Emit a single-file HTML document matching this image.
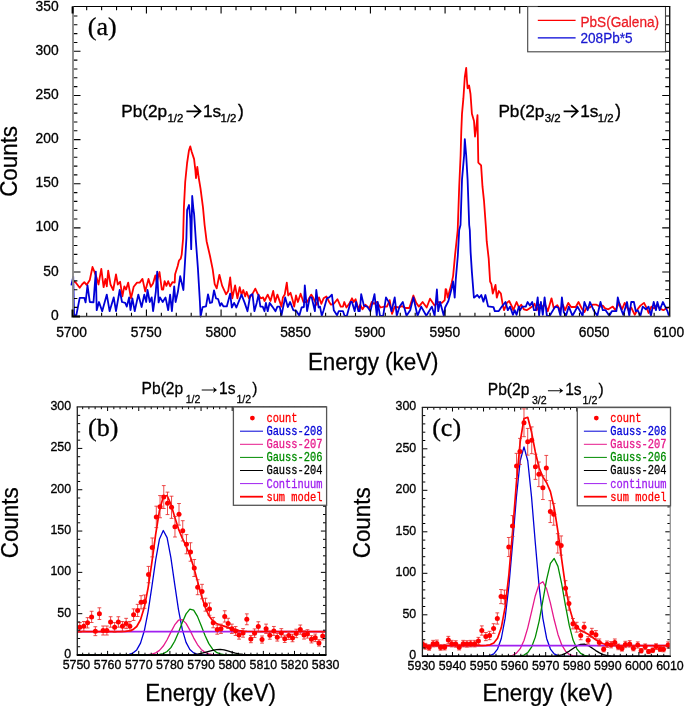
<!DOCTYPE html><html><head><meta charset="utf-8"><style>html,body{margin:0;padding:0;background:#fff;overflow:hidden}svg{display:block;will-change:transform}.s{font-family:"Liberation Sans",sans-serif}.m{font-family:"Liberation Mono",monospace}.r{font-family:"Liberation Serif",serif}</style></head><body>
<svg width="685" height="706" viewBox="0 0 685 706">
<rect width="685" height="706" fill="#fff"/>
<defs><clipPath id="ca"><rect x="70" y="6" width="601" height="312"/></clipPath>
<clipPath id="cb"><rect x="77.3" y="406.8" width="248.6" height="248.3"/></clipPath>
<clipPath id="cc"><rect x="422.4" y="407.3" width="247.9" height="248.9"/></clipPath></defs>
<g clip-path="url(#ca)" fill="none" stroke-width="1.8" stroke-linejoin="round">
<path d="M71.4 284.5 L73.2 281.7 L75.5 282.2 L79.7 287.7 L82 284.5 L84.3 282.2 L86.6 284.9 L89.8 279.9 L92.5 267 L94.4 271.6 L96.7 278 L98.5 284.5 L101.3 268.8 L103.6 287.2 L105.4 279 L106.8 286.3 L108.2 270.7 L110.5 284.5 L113.2 290 L116 274.3 L117.8 284.5 L120.1 281.7 L122.4 296.4 L124.3 286.3 L126.1 289.5 L128.2 282.6 L131 298.3 L133.7 286.8 L137 282.6 L139.7 282.6 L142.5 278.9 L145.2 291.4 L148.5 278.9 L150.8 286.8 L153 283.5 L155.4 275.3 L156.7 282.2 L159.5 272 L161.8 289.5 L163.2 289.5 L164.6 281.2 L166.4 285.8 L168.2 281.2 L170.1 286.3 L172.4 282.2 L174.7 282.6 L175.1 274.3 L177.7 266 L179 260.5 L180.7 258.7 L181.7 254.6 L183.1 238.5 L183.9 207.6 L185.2 182 L187.1 163 L189 150.2 L190.3 146.4 L191.6 151.5 L194.1 159.1 L195.4 170.6 L196 178.2 L197.3 166.8 L198.6 177 L200.5 188.4 L203 207.6 L204.6 225 L206.6 241.2 L210 256 L212.7 269.4 L214.7 284.2 L216.7 288.3 L219.4 274.8 L222.1 285.6 L226.1 294.3 L228.2 291 L230.2 277.5 L232.3 298.3 L235.1 285.4 L237.4 298.3 L239.7 287.2 L241.5 294.6 L243.3 290 L245.2 296.4 L246.6 291.8 L248.9 298.3 L252.1 294.6 L255.3 288.6 L257.6 293.7 L260.8 298.3 L263.1 297.4 L264.5 301 L267.7 294.6 L270.5 301 L273.2 290.9 L275.1 302 L277.4 294.6 L281.5 306.6 L282.9 297.4 L284.7 294.6 L286.8 282.6 L288.2 295.5 L290.5 292.8 L292.4 299.2 L294.2 306.6 L296 295.5 L297.9 302 L300.6 293.7 L303.4 302 L307.1 302 L311.2 294.6 L313.5 298.3 L316.7 304.7 L319 297.4 L321.3 303.8 L323.6 298.3 L326.4 296.4 L329.2 302 L331 304.7 L333.8 303.8 L337.4 299.2 L340.7 306.6 L343 306.6 L344.3 302 L346.4 307.5 L349.2 303.8 L352 298.3 L353.8 302 L355.6 299.2 L358.4 309.3 L360.2 304.7 L362.5 309.3 L365.3 304.7 L369.4 308.4 L371.7 302 L374 303.8 L376.8 302 L380.5 307.5 L384.2 306.6 L386.9 306.6 L389.7 300.1 L392 313.9 L394.7 306.6 L398.7 307.5 L401.9 306.1 L405.6 308 L409.3 308 L413.4 295.5 L416.2 302.9 L418.9 306.6 L422.6 302 L426.7 307.5 L430 298.7 L434.6 305.6 L438.2 302 L441.9 302.9 L444.7 300.1 L445.6 289.1 L446.3 289.6 L447.7 297.7 L451.7 282.9 L453.1 276.1 L455.1 254.6 L456.4 242.5 L457.7 230 L459.2 186.7 L460.6 155.5 L461.3 130.8 L462 113.8 L463.4 98.2 L464.8 77 L466.2 67.8 L466.9 79.8 L467.6 88.3 L469.1 85.5 L470.5 94 L471.9 113.8 L474 120.9 L475 136.5 L476.4 126.6 L477.5 115.2 L477.8 133.7 L478.3 162.6 L481.1 165.4 L482.5 186.7 L484 200.8 L486.1 230 L486.7 241.2 L488.7 258.6 L490.1 281.5 L491.4 284.2 L492.8 293.6 L495.5 284.9 L496.8 297.7 L498.8 291 L500.9 293.6 L502.9 305.8 L504.1 310.2 L506.9 302.9 L509.2 301 L512 306.6 L513.3 310.2 L516.6 302 L518.9 307.5 L521.2 304.7 L523.9 309.3 L526.7 310.2 L529.4 308.4 L532.2 306.6 L534.5 303.8 L536.8 310.2 L539.6 304.7 L542.3 306.6 L545.1 304.7 L547.8 311.2 L551.5 298.3 L553.8 308.4 L557.3 305.1 L560.1 310.2 L562.8 304.7 L565.1 310.2 L568.3 302.9 L571.1 307 L575.7 307 L578.5 302 L581.7 308.4 L584.4 312 L586.7 307.5 L590 307.5 L592.7 304.7 L596.4 304.7 L600.1 306.6 L602.8 305.6 L605.1 308.4 L608.4 309.3 L612.8 306.6 L615.5 310.2 L619.2 302.9 L622 309.3 L624.7 302.9 L628.4 310.2 L631.2 307.5 L634.8 314.8 L637.6 309.3 L640.4 305.6 L644 302.9 L646.8 308.4 L648.6 313 L651.4 306.6 L654.2 308.4 L656.9 304.7 L659.7 308.4 L663.4 310.2 L666.1 308.4 L668.9 307.5" stroke="#ff0000"/>
<path d="M71.4 285.4 L73.2 276.6 L74.1 315.8 L76.4 314.9 L79.7 297.8 L84.3 297.8 L85.6 302.4 L87.5 285.4 L89.8 302 L93.5 302.4 L95.8 271.6 L96.7 310.2 L99 302 L102.2 311.2 L106.8 294.6 L109.6 311.2 L113.7 297.4 L116 311.2 L119.7 290 L122 302 L125.2 302.9 L126.8 306.6 L129.1 297.4 L130.5 310.2 L132.4 298.3 L134.7 311.2 L138.3 294.6 L141.6 307 L144.3 294.6 L146.2 302 L147.5 290 L149.8 302 L151.7 297.4 L153.1 311.2 L155.8 291.8 L157.2 271.6 L158.6 302.4 L160 297.4 L162.7 302 L165.5 297.4 L168.2 310.2 L170.1 294.6 L171.9 311.2 L174.2 286.3 L175.6 302 L177.9 291.8 L180.2 276.2 L183.4 290 L184.4 272.1 L186.4 238.5 L187.1 210 L189 205 L190.3 219 L191.2 249.2 L192.2 196 L193.5 210 L194.1 214 L195.9 241.2 L197.9 268.1 L199.9 301.7 L200.6 316.5 L202.6 307.1 L206 306.4 L208 294.3 L210 303 L212 302.4 L214 290.3 L216 298.4 L218.1 299 L220.1 305.8 L221.4 303.1 L223.5 306.4 L226.8 306.4 L230.2 293.6 L231.8 307.5 L234.1 302.9 L236.4 307.5 L241.5 294.6 L244.7 302.9 L247.5 311.2 L250.2 295.5 L252.5 294.1 L254.4 311.2 L256.7 302.9 L258.5 294.6 L260.4 306.6 L262.7 306.6 L264.5 311.2 L265.9 302.9 L267.7 311.2 L269.6 302.9 L272.3 306.6 L275.5 311.2 L277.4 306.6 L279.7 306.6 L281.5 315.3 L282.9 308.4 L285.2 297.4 L287.8 307 L290.1 302 L293.3 310.2 L296.5 311.2 L299.3 315.8 L301.6 307.5 L303.9 307 L304.8 285.4 L307.1 311.2 L309.8 297.4 L311.7 297.4 L314.9 311.2 L316.3 290 L318.6 307.5 L320 306.6 L321.8 315.8 L323.6 310.2 L326.9 298.3 L329.2 297.4 L331.9 294.6 L333.8 310.2 L337 315.3 L338.8 311.2 L343 311.2 L344.6 315.8 L346.9 315.8 L350.6 302 L352 302 L354.7 311.2 L356.1 302 L358.4 311.2 L359.8 311.2 L361.2 294.1 L363.9 305.6 L367.1 306.6 L370.4 311.2 L374.5 294.1 L376.8 315.8 L377.7 302 L380 315.8 L383.2 315.8 L386 297.4 L389.2 302.9 L391.5 311.2 L394.7 297.4 L396.8 315.8 L399.6 306.6 L402.8 302 L406.5 315.8 L410.2 310.2 L413.4 297.4 L417.5 315.8 L421.2 306.6 L426.3 315.8 L431.8 306.6 L434.6 315.8 L436.9 289.5 L438.2 311.2 L440.1 302 L443.8 315.8 L445.1 307.5 L448.4 301 L451.7 288.3 L453.1 281.5 L454.7 297.7 L455.8 278.8 L457.8 256 L459.2 230 L460.5 225 L462 179.6 L464.1 155.5 L464.8 139.2 L466.2 155.5 L467.6 179.6 L469.2 225 L469.8 230 L470.6 251.9 L471.9 272.1 L473.9 297.7 L477.3 295 L479.3 297.7 L481.3 295 L483.4 301.7 L485.4 295 L488.1 306.4 L493.5 307.1 L494.8 311.1 L498.8 311.1 L501.5 307.1 L505.5 302 L507.8 310.2 L510.1 306.6 L512.9 314.8 L514.7 310.2 L516.6 314.8 L518.9 306.6 L520.2 310.2 L522.1 306.6 L525.8 306.6 L527.6 302 L529.9 305.6 L532.2 302 L534 310.2 L535.9 310.2 L537.7 297.4 L539.1 315.8 L540.9 302 L542.8 314.8 L544.6 297.4 L546.9 315.8 L549.7 315.8 L555.2 306.6 L558.2 307.5 L560.5 315.8 L561.9 297.4 L563.7 312 L566 315.8 L568.8 306.6 L572.5 315.8 L577.5 306.6 L582.6 315.8 L584.4 302 L587.7 310.2 L590 302 L593.6 310.2 L597.3 315.8 L600.5 302 L602.8 310.2 L605.6 310.2 L609.3 315.8 L611.8 311.2 L616.4 311.2 L617.8 297.4 L620.1 306.6 L623.3 314.8 L627 302 L629.3 315.8 L631.2 302 L633.9 302 L635.8 311.2 L637.6 310.2 L640.4 315.8 L642.7 306.6 L645.9 309.3 L648.6 306.6 L650.9 315.8 L653.7 302 L656 310.2 L657.4 302 L659.7 310.2 L662.9 302 L665.2 306.6 L667.5 311.2 L668.9 315.8" stroke="#0000d7"/>
</g>
<path d="M86.68 316.6V312.8M86.68 6.5V10.3M101.62 316.6V312.8M101.62 6.5V10.3M116.55 316.6V312.8M116.55 6.5V10.3M131.48 316.6V312.8M131.48 6.5V10.3M146.42 316.6V309.6M146.42 6.5V13.5M161.35 316.6V312.8M161.35 6.5V10.3M176.28 316.6V312.8M176.28 6.5V10.3M191.21 316.6V312.8M191.21 6.5V10.3M206.15 316.6V312.8M206.15 6.5V10.3M221.08 316.6V309.6M221.08 6.5V13.5M236.01 316.6V312.8M236.01 6.5V10.3M250.95 316.6V312.8M250.95 6.5V10.3M265.88 316.6V312.8M265.88 6.5V10.3M280.81 316.6V312.8M280.81 6.5V10.3M295.75 316.6V309.6M295.75 6.5V13.5M310.68 316.6V312.8M310.68 6.5V10.3M325.61 316.6V312.8M325.61 6.5V10.3M340.54 316.6V312.8M340.54 6.5V10.3M355.48 316.6V312.8M355.48 6.5V10.3M370.41 316.6V309.6M370.41 6.5V13.5M385.34 316.6V312.8M385.34 6.5V10.3M400.28 316.6V312.8M400.28 6.5V10.3M415.21 316.6V312.8M415.21 6.5V10.3M430.14 316.6V312.8M430.14 6.5V10.3M445.08 316.6V309.6M445.08 6.5V13.5M460.01 316.6V312.8M460.01 6.5V10.3M474.94 316.6V312.8M474.94 6.5V10.3M489.87 316.6V312.8M489.87 6.5V10.3M504.81 316.6V312.8M504.81 6.5V10.3M519.74 316.6V309.6M519.74 6.5V13.5M534.67 316.6V312.8M534.67 6.5V10.3M549.61 316.6V312.8M549.61 6.5V10.3M564.54 316.6V312.8M564.54 6.5V10.3M579.47 316.6V312.8M579.47 6.5V10.3M594.4 316.6V309.6M594.4 6.5V13.5M609.34 316.6V312.8M609.34 6.5V10.3M624.27 316.6V312.8M624.27 6.5V10.3M639.2 316.6V312.8M639.2 6.5V10.3M654.14 316.6V312.8M654.14 6.5V10.3M73 307.37H77.4M669.7 307.37H665.3M73 298.54H77.4M669.7 298.54H665.3M73 289.71H77.4M669.7 289.71H665.3M73 280.88H77.4M669.7 280.88H665.3M73 272.05H80.5M669.7 272.05H662.2M73 263.22H77.4M669.7 263.22H665.3M73 254.39H77.4M669.7 254.39H665.3M73 245.56H77.4M669.7 245.56H665.3M73 236.73H77.4M669.7 236.73H665.3M73 227.9H80.5M669.7 227.9H662.2M73 219.07H77.4M669.7 219.07H665.3M73 210.24H77.4M669.7 210.24H665.3M73 201.41H77.4M669.7 201.41H665.3M73 192.58H77.4M669.7 192.58H665.3M73 183.75H80.5M669.7 183.75H662.2M73 174.92H77.4M669.7 174.92H665.3M73 166.09H77.4M669.7 166.09H665.3M73 157.26H77.4M669.7 157.26H665.3M73 148.43H77.4M669.7 148.43H665.3M73 139.6H80.5M669.7 139.6H662.2M73 130.77H77.4M669.7 130.77H665.3M73 121.94H77.4M669.7 121.94H665.3M73 113.11H77.4M669.7 113.11H665.3M73 104.28H77.4M669.7 104.28H665.3M73 95.45H80.5M669.7 95.45H662.2M73 86.62H77.4M669.7 86.62H665.3M73 77.79H77.4M669.7 77.79H665.3M73 68.96H77.4M669.7 68.96H665.3M73 60.13H77.4M669.7 60.13H665.3M73 51.3H80.5M669.7 51.3H662.2M73 42.47H77.4M669.7 42.47H665.3M73 33.64H77.4M669.7 33.64H665.3M73 24.81H77.4M669.7 24.81H665.3M73 15.98H77.4M669.7 15.98H665.3" stroke="#000" stroke-width="1.1" fill="none"/>
<path d="M72.4 6.5H670.3" stroke="#000" stroke-width="1.2"/>
<path d="M669.7 6.5V316.6" stroke="#111" stroke-width="1.4"/>
<path d="M73 6.5V316.6" stroke="#8c8c8c" stroke-width="1.9"/>
<path d="M73 316.6H670.3" stroke="#444" stroke-width="1.5"/>
<path d="M72.5 309.6V316.6 H80" stroke="#000" stroke-width="2" fill="none"/>
<path d="M72.6 6.5V13.5" stroke="#000" stroke-width="2" fill="none"/>
<text class="s" x="58.6" y="319.7" font-size="13.8" text-anchor="end" fill="#000" stroke="#000" stroke-width="0.3">0</text>
<text class="s" x="58.6" y="275.55" font-size="13.8" text-anchor="end" fill="#000" stroke="#000" stroke-width="0.3">50</text>
<text class="s" x="58.6" y="231.4" font-size="13.8" text-anchor="end" fill="#000" stroke="#000" stroke-width="0.3">100</text>
<text class="s" x="58.6" y="187.25" font-size="13.8" text-anchor="end" fill="#000" stroke="#000" stroke-width="0.3">150</text>
<text class="s" x="58.6" y="143.1" font-size="13.8" text-anchor="end" fill="#000" stroke="#000" stroke-width="0.3">200</text>
<text class="s" x="58.6" y="98.95" font-size="13.8" text-anchor="end" fill="#000" stroke="#000" stroke-width="0.3">250</text>
<text class="s" x="58.6" y="54.8" font-size="13.8" text-anchor="end" fill="#000" stroke="#000" stroke-width="0.3">300</text>
<text class="s" x="58.6" y="10.65" font-size="13.8" text-anchor="end" fill="#000" stroke="#000" stroke-width="0.3">350</text>
<text class="s" x="71.55" y="337.3" font-size="13.8" text-anchor="middle" fill="#000" stroke="#000" stroke-width="0.3">5700</text>
<text class="s" x="146.22" y="337.3" font-size="13.8" text-anchor="middle" fill="#000" stroke="#000" stroke-width="0.3">5750</text>
<text class="s" x="220.88" y="337.3" font-size="13.8" text-anchor="middle" fill="#000" stroke="#000" stroke-width="0.3">5800</text>
<text class="s" x="295.55" y="337.3" font-size="13.8" text-anchor="middle" fill="#000" stroke="#000" stroke-width="0.3">5850</text>
<text class="s" x="370.21" y="337.3" font-size="13.8" text-anchor="middle" fill="#000" stroke="#000" stroke-width="0.3">5900</text>
<text class="s" x="444.88" y="337.3" font-size="13.8" text-anchor="middle" fill="#000" stroke="#000" stroke-width="0.3">5950</text>
<text class="s" x="519.54" y="337.3" font-size="13.8" text-anchor="middle" fill="#000" stroke="#000" stroke-width="0.3">6000</text>
<text class="s" x="594.2" y="337.3" font-size="13.8" text-anchor="middle" fill="#000" stroke="#000" stroke-width="0.3">6050</text>
<text class="s" x="668.87" y="337.3" font-size="13.8" text-anchor="middle" fill="#000" stroke="#000" stroke-width="0.3">6100</text>
<text class="s" transform="translate(373.2,369.7) scale(1,1.03)" font-size="22.4" text-anchor="middle" fill="#000" stroke="#000" stroke-width="0.25">Energy (keV)</text>
<text class="s" transform="translate(17.2,161.4) rotate(-90) scale(1,1.03)" font-size="22.4" text-anchor="middle" stroke="#000" stroke-width="0.25">Counts</text>
<text class="r" x="87.8" y="35" font-size="26" stroke="#000" stroke-width="0.3">(a)</text>
<rect x="527.7" y="6.5" width="137.8" height="45.3" fill="#fff" stroke="#444" stroke-width="1.1"/>
<path d="M537.8 6.5H669" stroke="#000" stroke-width="1.2"/>
<path d="M537.8 20.3H575.6" stroke="#ff0000" stroke-width="1.2"/>
<path d="M537.8 37.8H575.6" stroke="#0000d7" stroke-width="1.2"/>
<text class="s" transform="translate(580.5,27.2) scale(1,1.06)" font-size="13.6" text-anchor="start" fill="#ec1c24" stroke="#ec1c24" stroke-width="0.25">PbS(Galena)</text>
<text class="s" transform="translate(580.5,43.4) scale(1,1.06)" font-size="13.6" text-anchor="start" fill="#1818d0" stroke="#1818d0" stroke-width="0.25">208Pb*5</text>
<text class="s" x="121.2" y="117.2" font-size="17.2" text-anchor="start" fill="#000" stroke="#000" stroke-width="0.35">Pb(2p</text><text class="s" x="167.5" y="122" font-size="11.4" text-anchor="start" fill="#000" stroke="#000" stroke-width="0.35">1/2</text><path d="M186.4 111.3H200 M194 105.2L200.6 111.3L194 117.4" stroke="#000" stroke-width="1.7" fill="none"/><text class="s" x="203" y="117.2" font-size="17.2" text-anchor="start" fill="#000" stroke="#000" stroke-width="0.35">1s</text><text class="s" x="220.6" y="122" font-size="11.4" text-anchor="start" fill="#000" stroke="#000" stroke-width="0.35">1/2</text><text class="s" transform="translate(238.1,117.2) scale(1,1.1)" font-size="17.2" stroke="#000" stroke-width="0.35">)</text>
<text class="s" x="498.4" y="117.2" font-size="17.2" text-anchor="start" fill="#000" stroke="#000" stroke-width="0.35">Pb(2p</text><text class="s" x="544.7" y="122" font-size="11.4" text-anchor="start" fill="#000" stroke="#000" stroke-width="0.35">3/2</text><path d="M563.6 111.3H577.2 M571.2 105.2L577.8 111.3L571.2 117.4" stroke="#000" stroke-width="1.7" fill="none"/><text class="s" x="580.2" y="117.2" font-size="17.2" text-anchor="start" fill="#000" stroke="#000" stroke-width="0.35">1s</text><text class="s" x="597.8" y="122" font-size="11.4" text-anchor="start" fill="#000" stroke="#000" stroke-width="0.35">1/2</text><text class="s" transform="translate(615.3,117.2) scale(1,1.1)" font-size="17.2" stroke="#000" stroke-width="0.35">)</text>
<g clip-path="url(#cb)" fill="none" stroke-linejoin="round">
<path d="M68.41 655 L72.21 655 L76 655 L79.8 655 L83.59 655 L87.39 655 L91.18 655 L94.98 655 L98.77 655 L102.57 655 L106.36 655 L110.16 655 L113.96 655 L117.75 654.99 L121.55 654.95 L125.34 654.81 L129.14 654.36 L132.93 653.07 L136.73 649.9 L140.52 643.16 L144.32 630.81 L148.11 611.57 L151.91 586.45 L155.7 559.87 L159.5 538.94 L163.29 530.52 L167.09 537.62 L170.88 557.7 L174.68 584.09 L178.47 609.57 L182.27 629.41 L186.06 642.33 L189.86 649.48 L193.65 652.89 L197.45 654.29 L201.24 654.79 L205.04 654.95 L208.83 654.99 L212.63 655 L216.42 655 L220.22 655 L224.01 655 L227.81 655 L231.6 655 L235.4 655 L239.19 655 L242.99 655 L246.78 655 L250.58 655 L254.38 655 L258.17 655 L261.97 655 L265.76 655 L269.56 655 L273.35 655 L277.15 655 L280.94 655 L284.74 655 L288.53 655 L292.33 655 L296.12 655 L299.92 655 L303.71 655 L307.51 655 L311.3 655 L315.1 655 L318.89 655 L322.69 655 L326.48 655 L330.28 655 L334.07 655 L337.87 655 L341.66 655 L345.46 655 L349.25 655 L353.05 655 L356.84 655 L360.64 655" stroke="#0000d7" stroke-width="1.3"/>
<path d="M68.41 655 L72.21 655 L76 655 L79.8 655 L83.59 655 L87.39 655 L91.18 655 L94.98 655 L98.77 655 L102.57 655 L106.36 655 L110.16 655 L113.96 655 L117.75 655 L121.55 655 L125.34 655 L129.14 655 L132.93 655 L136.73 654.99 L140.52 654.98 L144.32 654.91 L148.11 654.71 L151.91 654.16 L155.7 652.9 L159.5 650.38 L163.29 646.04 L167.09 639.75 L170.88 632.16 L174.68 624.94 L178.47 620.22 L182.27 619.62 L186.06 623.36 L189.86 630.12 L193.65 637.81 L197.45 644.55 L201.24 649.42 L205.04 652.38 L208.83 653.92 L212.63 654.61 L216.42 654.87 L220.22 654.96 L224.01 654.99 L227.81 655 L231.6 655 L235.4 655 L239.19 655 L242.99 655 L246.78 655 L250.58 655 L254.38 655 L258.17 655 L261.97 655 L265.76 655 L269.56 655 L273.35 655 L277.15 655 L280.94 655 L284.74 655 L288.53 655 L292.33 655 L296.12 655 L299.92 655 L303.71 655 L307.51 655 L311.3 655 L315.1 655 L318.89 655 L322.69 655 L326.48 655 L330.28 655 L334.07 655 L337.87 655 L341.66 655 L345.46 655 L349.25 655 L353.05 655 L356.84 655 L360.64 655" stroke="#e6198c" stroke-width="1.3"/>
<path d="M68.41 655 L72.21 655 L76 655 L79.8 655 L83.59 655 L87.39 655 L91.18 655 L94.98 655 L98.77 655 L102.57 655 L106.36 655 L110.16 655 L113.96 655 L117.75 655 L121.55 655 L125.34 655 L129.14 655 L132.93 655 L136.73 655 L140.52 655 L144.32 655 L148.11 654.99 L151.91 654.95 L155.7 654.83 L159.5 654.48 L163.29 653.56 L167.09 651.53 L170.88 647.63 L174.68 641.26 L178.47 632.48 L182.27 622.54 L186.06 613.87 L189.86 609.19 L193.65 610.14 L197.45 616.38 L201.24 625.77 L205.04 635.55 L208.83 643.63 L212.63 649.15 L216.42 652.36 L220.22 653.95 L224.01 654.63 L227.81 654.89 L231.6 654.97 L235.4 654.99 L239.19 655 L242.99 655 L246.78 655 L250.58 655 L254.38 655 L258.17 655 L261.97 655 L265.76 655 L269.56 655 L273.35 655 L277.15 655 L280.94 655 L284.74 655 L288.53 655 L292.33 655 L296.12 655 L299.92 655 L303.71 655 L307.51 655 L311.3 655 L315.1 655 L318.89 655 L322.69 655 L326.48 655 L330.28 655 L334.07 655 L337.87 655 L341.66 655 L345.46 655 L349.25 655 L353.05 655 L356.84 655 L360.64 655" stroke="#008c00" stroke-width="1.3"/>
<path d="M68.41 655 L72.21 655 L76 655 L79.8 655 L83.59 655 L87.39 655 L91.18 655 L94.98 655 L98.77 655 L102.57 655 L106.36 655 L110.16 655 L113.96 655 L117.75 655 L121.55 655 L125.34 655 L129.14 655 L132.93 655 L136.73 655 L140.52 655 L144.32 655 L148.11 655 L151.91 655 L155.7 655 L159.5 655 L163.29 655 L167.09 655 L170.88 655 L174.68 655 L178.47 654.99 L182.27 654.98 L186.06 654.93 L189.86 654.82 L193.65 654.58 L197.45 654.15 L201.24 653.45 L205.04 652.48 L208.83 651.36 L212.63 650.3 L216.42 649.6 L220.22 649.47 L224.01 649.94 L227.81 650.88 L231.6 652.01 L235.4 653.07 L239.19 653.88 L242.99 654.43 L246.78 654.74 L250.58 654.89 L254.38 654.96 L258.17 654.99 L261.97 655 L265.76 655 L269.56 655 L273.35 655 L277.15 655 L280.94 655 L284.74 655 L288.53 655 L292.33 655 L296.12 655 L299.92 655 L303.71 655 L307.51 655 L311.3 655 L315.1 655 L318.89 655 L322.69 655 L326.48 655 L330.28 655 L334.07 655 L337.87 655 L341.66 655 L345.46 655 L349.25 655 L353.05 655 L356.84 655 L360.64 655" stroke="#000000" stroke-width="1.3"/>
<path d="M77.3 631.59H325.9" stroke="#a020f0" stroke-width="1.6"/>
<path d="M68.41 631.59 L72.21 631.59 L76 631.59 L79.8 631.59 L83.59 631.59 L87.39 631.59 L91.18 631.59 L94.98 631.59 L98.77 631.59 L102.57 631.59 L106.36 631.59 L110.16 631.59 L113.96 631.59 L117.75 631.58 L121.55 631.55 L125.34 631.41 L129.14 630.95 L132.93 629.66 L136.73 626.49 L140.52 619.73 L144.32 607.31 L148.11 587.86 L151.91 562.16 L155.7 534.19 L159.5 510.38 L163.29 496.71 L167.09 495.49 L170.88 504.09 L174.68 516.88 L178.47 528.85 L182.27 538.14 L186.06 546.08 L189.86 555.21 L193.65 567.01 L197.45 580.96 L201.24 595.02 L205.04 606.95 L208.83 615.48 L212.63 620.65 L216.42 623.42 L220.22 624.97 L224.01 626.16 L227.81 627.36 L231.6 628.57 L235.4 629.65 L239.19 630.48 L242.99 631.02 L246.78 631.33 L250.58 631.49 L254.38 631.55 L258.17 631.58 L261.97 631.59 L265.76 631.59 L269.56 631.59 L273.35 631.59 L277.15 631.59 L280.94 631.59 L284.74 631.59 L288.53 631.59 L292.33 631.59 L296.12 631.59 L299.92 631.59 L303.71 631.59 L307.51 631.59 L311.3 631.59 L315.1 631.59 L318.89 631.59 L322.69 631.59 L326.48 631.59 L330.28 631.59 L334.07 631.59 L337.87 631.59 L341.66 631.59 L345.46 631.59 L349.25 631.59 L353.05 631.59 L356.84 631.59 L360.64 631.59" stroke="#ff0000" stroke-width="1.7"/>
<path d="M79.8 622.57V632.15 M77.9 622.57H81.7 M77.9 632.15H81.7M83.84 621.49V631.24 M81.94 621.49H85.74 M81.94 631.24H85.74M87.57 617.63V627.97 M85.67 617.63H89.47 M85.67 627.97H89.47M91.62 611.28V622.53 M89.72 611.28H93.52 M89.72 622.53H93.52M95.35 626.73V635.63 M93.45 626.73H97.25 M93.45 635.63H97.25M99.39 607.81V619.52 M97.49 607.81H101.29 M97.49 619.52H101.29M103.12 626.01V635.02 M101.22 626.01H105.02 M101.22 635.02H105.02M106.86 626.01V635.02 M104.96 626.01H108.76 M104.96 635.02H108.76M110.59 616.73V627.2 M108.69 616.73H112.49 M108.69 627.2H112.49M114.63 622.57V632.15 M112.73 622.57H116.53 M112.73 632.15H116.53M118.36 616.73V627.2 M116.46 616.73H120.26 M116.46 627.2H120.26M122.41 621.49V631.24 M120.51 621.49H124.31 M120.51 631.24H124.31M126.14 618.34V628.58 M124.24 618.34H128.04 M124.24 628.58H128.04M129.87 621.49V631.24 M127.97 621.49H131.77 M127.97 631.24H131.77M133.6 608.88V620.45 M131.7 608.88H135.5 M131.7 620.45H135.5M137.64 604.35V616.51 M135.74 604.35H139.54 M135.74 616.51H139.54M141.07 595.68V608.91 M139.17 595.68H142.97 M139.17 608.91H142.97M144.49 594.98V608.29 M142.59 594.98H146.39 M142.59 608.29H146.39M148.53 566.4V582.74 M146.63 566.4H150.43 M146.63 582.74H150.43M152.26 537.98V556.88 M150.36 537.98H154.16 M150.36 556.88H154.16M156.31 506.18V527.59 M154.41 506.18H158.21 M154.41 527.59H158.21M160.04 495.58V517.77 M158.14 495.58H161.94 M158.14 517.77H161.94M163.77 485.6V508.5 M161.87 485.6H165.67 M161.87 508.5H165.67M167.5 492.14V514.58 M165.6 492.14H169.4 M165.6 514.58H169.4M171.54 496.19V518.33 M169.64 496.19H173.44 M169.64 518.33H173.44M174.96 516.36V537 M173.06 516.36H176.86 M173.06 537H176.86M179.01 503.51V525.12 M177.11 503.51H180.91 M177.11 525.12H180.91M182.74 520.68V540.98 M180.84 520.68H184.64 M180.84 540.98H184.64M186.47 534.6V553.79 M184.57 534.6H188.37 M184.57 553.79H188.37M190.51 542.75V561.24 M188.61 542.75H192.41 M188.61 561.24H192.41M194.25 559.52V576.51 M192.35 559.52H196.15 M192.35 576.51H196.15M197.67 579.69V594.69 M195.77 579.69H199.57 M195.77 594.69H199.57M202.02 584.33V598.84 M200.12 584.33H203.92 M200.12 598.84H203.92M205.44 598.24V611.16 M203.54 598.24H207.34 M203.54 611.16H207.34M209.49 602.93V615.27 M207.59 602.93H211.39 M207.59 615.27H211.39M213.22 617.45V627.81 M211.32 617.45H215.12 M211.32 627.81H215.12M217.26 625.01V634.19 M215.36 625.01H219.16 M215.36 634.19H219.16M220.99 624.11V633.44 M219.09 624.11H222.89 M219.09 633.44H222.89M224.72 610.75V622.06 M222.82 610.75H226.62 M222.82 622.06H226.62M228.15 618.25V628.5 M226.25 618.25H230.05 M226.25 628.5H230.05M231.88 624.11V633.44 M229.98 624.11H233.78 M229.98 633.44H233.78M235.61 626.55V635.47 M233.71 626.55H237.51 M233.71 635.47H237.51M239.03 631.01V639.15 M237.13 631.01H240.93 M237.13 639.15H240.93M243.07 628.64V637.2 M241.17 628.64H244.97 M241.17 637.2H244.97M246.81 613.87V624.75 M244.91 613.87H248.71 M244.91 624.75H248.71M250.85 635.43V642.7 M248.95 635.43H252.75 M248.95 642.7H252.75M254.58 628.91V637.43 M252.68 628.91H256.48 M252.68 637.43H256.48M258.31 621.76V631.47 M256.41 621.76H260.21 M256.41 631.47H260.21M262.04 635.98V643.14 M260.14 635.98H263.94 M260.14 643.14H263.94M266.09 624.11V633.44 M264.19 624.11H267.99 M264.19 633.44H267.99M269.82 631.11V639.22 M267.92 631.11H271.72 M267.92 639.22H271.72M273.86 626.46V635.4 M271.96 626.46H275.76 M271.96 635.4H275.76M277.28 633.4V641.08 M275.38 633.4H279.18 M275.38 641.08H279.18M281.33 628.64V637.2 M279.43 628.64H283.23 M279.43 637.2H283.23M284.75 635.15V642.48 M282.85 635.15H286.65 M282.85 642.48H286.65M288.79 631.47V639.52 M286.89 631.47H290.69 M286.89 639.52H290.69M292.52 634.23V641.74 M290.62 634.23H294.42 M290.62 641.74H294.42M296.25 629.19V637.65 M294.36 629.19H298.15 M294.36 637.65H298.15M300.3 625.01V634.19 M298.4 625.01H302.2 M298.4 634.19H302.2M304.03 630.92V639.07 M302.13 630.92H305.93 M302.13 639.07H305.93M307.45 629.73V638.1 M305.55 629.73H309.35 M305.55 638.1H309.35M311.49 635.7V642.92 M309.59 635.7H313.39 M309.59 642.92H313.39M315.23 634.04V641.6 M313.33 634.04H317.13 M313.33 641.6H317.13M318.96 639.71V646.05 M317.06 639.71H320.86 M317.06 646.05H320.86M322.69 632.02V639.96 M320.79 632.02H324.59 M320.79 639.96H324.59" stroke="#e82020" stroke-opacity="0.8" stroke-width="1"/>
<g fill="#ff0000"><circle cx="79.8" cy="627.36" r="2.5"/><circle cx="83.84" cy="626.37" r="2.5"/><circle cx="87.57" cy="622.8" r="2.5"/><circle cx="91.62" cy="616.9" r="2.5"/><circle cx="95.35" cy="631.18" r="2.5"/><circle cx="99.39" cy="613.67" r="2.5"/><circle cx="103.12" cy="630.51" r="2.5"/><circle cx="106.86" cy="630.51" r="2.5"/><circle cx="110.59" cy="621.97" r="2.5"/><circle cx="114.63" cy="627.36" r="2.5"/><circle cx="118.36" cy="621.97" r="2.5"/><circle cx="122.41" cy="626.37" r="2.5"/><circle cx="126.14" cy="623.46" r="2.5"/><circle cx="129.87" cy="626.37" r="2.5"/><circle cx="133.6" cy="614.66" r="2.5"/><circle cx="137.64" cy="610.43" r="2.5"/><circle cx="141.07" cy="602.29" r="2.5"/><circle cx="144.49" cy="601.63" r="2.5"/><circle cx="148.53" cy="574.57" r="2.5"/><circle cx="152.26" cy="547.43" r="2.5"/><circle cx="156.31" cy="516.89" r="2.5"/><circle cx="160.04" cy="506.68" r="2.5"/><circle cx="163.77" cy="497.05" r="2.5"/><circle cx="167.5" cy="503.36" r="2.5"/><circle cx="171.54" cy="507.26" r="2.5"/><circle cx="174.96" cy="526.68" r="2.5"/><circle cx="179.01" cy="514.32" r="2.5"/><circle cx="182.74" cy="530.83" r="2.5"/><circle cx="186.47" cy="544.2" r="2.5"/><circle cx="190.51" cy="552" r="2.5"/><circle cx="194.25" cy="568.02" r="2.5"/><circle cx="197.67" cy="587.19" r="2.5"/><circle cx="202.02" cy="591.59" r="2.5"/><circle cx="205.44" cy="604.7" r="2.5"/><circle cx="209.49" cy="609.1" r="2.5"/><circle cx="213.22" cy="622.63" r="2.5"/><circle cx="217.26" cy="629.6" r="2.5"/><circle cx="220.99" cy="628.77" r="2.5"/><circle cx="224.72" cy="616.4" r="2.5"/><circle cx="228.15" cy="623.38" r="2.5"/><circle cx="231.88" cy="628.77" r="2.5"/><circle cx="235.61" cy="631.01" r="2.5"/><circle cx="239.03" cy="635.08" r="2.5"/><circle cx="243.07" cy="632.92" r="2.5"/><circle cx="246.81" cy="619.31" r="2.5"/><circle cx="250.85" cy="639.06" r="2.5"/><circle cx="254.58" cy="633.17" r="2.5"/><circle cx="258.31" cy="626.61" r="2.5"/><circle cx="262.04" cy="639.56" r="2.5"/><circle cx="266.09" cy="628.77" r="2.5"/><circle cx="269.82" cy="635.16" r="2.5"/><circle cx="273.86" cy="630.93" r="2.5"/><circle cx="277.28" cy="637.24" r="2.5"/><circle cx="281.33" cy="632.92" r="2.5"/><circle cx="284.75" cy="638.82" r="2.5"/><circle cx="288.79" cy="635.5" r="2.5"/><circle cx="292.52" cy="637.99" r="2.5"/><circle cx="296.25" cy="633.42" r="2.5"/><circle cx="300.3" cy="629.6" r="2.5"/><circle cx="304.03" cy="635" r="2.5"/><circle cx="307.45" cy="633.92" r="2.5"/><circle cx="311.49" cy="639.31" r="2.5"/><circle cx="315.23" cy="637.82" r="2.5"/><circle cx="318.96" cy="642.88" r="2.5"/><circle cx="322.69" cy="635.99" r="2.5"/></g>
</g>
<path d="M82.68 655.1V652.7M82.68 406.8V409.2M88.91 655.1V652.7M88.91 406.8V409.2M95.14 655.1V652.7M95.14 406.8V409.2M101.37 655.1V652.7M101.37 406.8V409.2M107.6 655.1V650.9M107.6 406.8V411M113.83 655.1V652.7M113.83 406.8V409.2M120.06 655.1V652.7M120.06 406.8V409.2M126.29 655.1V652.7M126.29 406.8V409.2M132.52 655.1V652.7M132.52 406.8V409.2M138.75 655.1V650.9M138.75 406.8V411M144.98 655.1V652.7M144.98 406.8V409.2M151.21 655.1V652.7M151.21 406.8V409.2M157.44 655.1V652.7M157.44 406.8V409.2M163.67 655.1V652.7M163.67 406.8V409.2M169.9 655.1V650.9M169.9 406.8V411M176.13 655.1V652.7M176.13 406.8V409.2M182.36 655.1V652.7M182.36 406.8V409.2M188.59 655.1V652.7M188.59 406.8V409.2M194.82 655.1V652.7M194.82 406.8V409.2M201.05 655.1V650.9M201.05 406.8V411M207.28 655.1V652.7M207.28 406.8V409.2M213.51 655.1V652.7M213.51 406.8V409.2M219.74 655.1V652.7M219.74 406.8V409.2M225.97 655.1V652.7M225.97 406.8V409.2M232.2 655.1V650.9M232.2 406.8V411M238.43 655.1V652.7M238.43 406.8V409.2M244.66 655.1V652.7M244.66 406.8V409.2M250.89 655.1V652.7M250.89 406.8V409.2M257.12 655.1V652.7M257.12 406.8V409.2M263.35 655.1V650.9M263.35 406.8V411M269.58 655.1V652.7M269.58 406.8V409.2M275.81 655.1V652.7M275.81 406.8V409.2M282.04 655.1V652.7M282.04 406.8V409.2M288.27 655.1V652.7M288.27 406.8V409.2M294.5 655.1V650.9M294.5 406.8V411M300.73 655.1V652.7M300.73 406.8V409.2M306.96 655.1V652.7M306.96 406.8V409.2M313.19 655.1V652.7M313.19 406.8V409.2M319.42 655.1V652.7M319.42 406.8V409.2M77.3 646.74H80.2M325.9 646.74H323M77.3 638.47H80.2M325.9 638.47H323M77.3 630.21H80.2M325.9 630.21H323M77.3 621.95H80.2M325.9 621.95H323M77.3 613.68H82.3M325.9 613.68H320.9M77.3 605.42H80.2M325.9 605.42H323M77.3 597.16H80.2M325.9 597.16H323M77.3 588.9H80.2M325.9 588.9H323M77.3 580.63H80.2M325.9 580.63H323M77.3 572.37H82.3M325.9 572.37H320.9M77.3 564.11H80.2M325.9 564.11H323M77.3 555.84H80.2M325.9 555.84H323M77.3 547.58H80.2M325.9 547.58H323M77.3 539.32H80.2M325.9 539.32H323M77.3 531.05H82.3M325.9 531.05H320.9M77.3 522.79H80.2M325.9 522.79H323M77.3 514.53H80.2M325.9 514.53H323M77.3 506.27H80.2M325.9 506.27H323M77.3 498H80.2M325.9 498H323M77.3 489.74H82.3M325.9 489.74H320.9M77.3 481.48H80.2M325.9 481.48H323M77.3 473.21H80.2M325.9 473.21H323M77.3 464.95H80.2M325.9 464.95H323M77.3 456.69H80.2M325.9 456.69H323M77.3 448.42H82.3M325.9 448.42H320.9M77.3 440.16H80.2M325.9 440.16H323M77.3 431.9H80.2M325.9 431.9H323M77.3 423.64H80.2M325.9 423.64H323M77.3 415.37H80.2M325.9 415.37H323" stroke="#000" stroke-width="1" fill="none"/>
<path d="M76.7 406.8H326.5" stroke="#222" stroke-width="1.2"/>
<path d="M325.9 406.8V655.1" stroke="#222" stroke-width="1.4"/>
<path d="M77.3 406.8V655.1" stroke="#222" stroke-width="1.3"/>
<path d="M76.7 655.1H326.5" stroke="#000" stroke-width="1.6"/>
<text class="s" transform="translate(71.1,658) scale(1,1.08)" font-size="12.4" text-anchor="end" fill="#000" stroke="#000" stroke-width="0.3">0</text>
<text class="s" transform="translate(71.1,616.68) scale(1,1.08)" font-size="12.4" text-anchor="end" fill="#000" stroke="#000" stroke-width="0.3">50</text>
<text class="s" transform="translate(71.1,575.37) scale(1,1.08)" font-size="12.4" text-anchor="end" fill="#000" stroke="#000" stroke-width="0.3">100</text>
<text class="s" transform="translate(71.1,534.05) scale(1,1.08)" font-size="12.4" text-anchor="end" fill="#000" stroke="#000" stroke-width="0.3">150</text>
<text class="s" transform="translate(71.1,492.74) scale(1,1.08)" font-size="12.4" text-anchor="end" fill="#000" stroke="#000" stroke-width="0.3">200</text>
<text class="s" transform="translate(71.1,451.42) scale(1,1.08)" font-size="12.4" text-anchor="end" fill="#000" stroke="#000" stroke-width="0.3">250</text>
<text class="s" transform="translate(71.1,410.11) scale(1,1.08)" font-size="12.4" text-anchor="end" fill="#000" stroke="#000" stroke-width="0.3">300</text>
<text class="s" transform="translate(76.45,668.9) scale(1,1.08)" font-size="12.4" text-anchor="middle" fill="#000" stroke="#000" stroke-width="0.3">5750</text>
<text class="s" transform="translate(107.6,668.9) scale(1,1.08)" font-size="12.4" text-anchor="middle" fill="#000" stroke="#000" stroke-width="0.3">5760</text>
<text class="s" transform="translate(138.75,668.9) scale(1,1.08)" font-size="12.4" text-anchor="middle" fill="#000" stroke="#000" stroke-width="0.3">5770</text>
<text class="s" transform="translate(169.9,668.9) scale(1,1.08)" font-size="12.4" text-anchor="middle" fill="#000" stroke="#000" stroke-width="0.3">5780</text>
<text class="s" transform="translate(201.05,668.9) scale(1,1.08)" font-size="12.4" text-anchor="middle" fill="#000" stroke="#000" stroke-width="0.3">5790</text>
<text class="s" transform="translate(232.2,668.9) scale(1,1.08)" font-size="12.4" text-anchor="middle" fill="#000" stroke="#000" stroke-width="0.3">5800</text>
<text class="s" transform="translate(263.35,668.9) scale(1,1.08)" font-size="12.4" text-anchor="middle" fill="#000" stroke="#000" stroke-width="0.3">5810</text>
<text class="s" transform="translate(294.5,668.9) scale(1,1.08)" font-size="12.4" text-anchor="middle" fill="#000" stroke="#000" stroke-width="0.3">5820</text>
<text class="s" transform="translate(325.65,668.9) scale(1,1.08)" font-size="12.4" text-anchor="middle" fill="#000" stroke="#000" stroke-width="0.3">5830</text>
<text class="s" transform="translate(210.6,701.2) scale(1,1.03)" font-size="22.4" text-anchor="middle" fill="#000" stroke="#000" stroke-width="0.25">Energy (keV)</text>
<text class="s" transform="translate(18.3,522.8) rotate(-90) scale(1,1.03)" font-size="22.4" text-anchor="middle" stroke="#000" stroke-width="0.25">Counts</text>
<text class="r" x="88.1" y="436.4" font-size="26" stroke="#000" stroke-width="0.3">(b)</text>
<text class="s" transform="translate(141.6,394.2) scale(1,1.04)" font-size="15.6" text-anchor="start" fill="#000" stroke="#000" stroke-width="0.25">Pb(2p</text><text class="s" transform="translate(185.7,402.8) scale(1,1.04)" font-size="10.6" text-anchor="start" fill="#000" stroke="#000" stroke-width="0.25">1/2</text><path d="M201.7 390H215" stroke="#333" stroke-width="1.2"/><path d="M217 390L213 387.1L214.2 390L213 392.9Z" fill="#000"/><text class="s" transform="translate(219,394.2) scale(1,1.04)" font-size="15.6" text-anchor="start" fill="#000" stroke="#000" stroke-width="0.25">1s</text><text class="s" transform="translate(236.4,402.8) scale(1,1.04)" font-size="10.6" text-anchor="start" fill="#000" stroke="#000" stroke-width="0.25">1/2</text><text class="s" transform="translate(252.2,394.2) scale(1,1.04)" font-size="15.6" text-anchor="start" fill="#000" stroke="#000" stroke-width="0.25">)</text>
<rect x="233.4" y="407" width="93.2" height="98.3" fill="#fff" stroke="#555" stroke-width="1.3"/>
<circle cx="252.4" cy="418.1" r="2.4" fill="#ff0000"/>
<text class="m" transform="translate(266.4,422) scale(1,1.15)" font-size="10.4" text-anchor="start" fill="#ff0000" stroke="#ff0000" stroke-width="0.25">count</text>
<path d="M240 431.2H263" stroke="#0000d7" stroke-width="1"/>
<text class="m" transform="translate(266.4,435.1) scale(1,1.15)" font-size="10.4" text-anchor="start" fill="#0000d7" stroke="#0000d7" stroke-width="0.25">Gauss-208</text>
<path d="M240 444.3H263" stroke="#e6198c" stroke-width="1"/>
<text class="m" transform="translate(266.4,448.2) scale(1,1.15)" font-size="10.4" text-anchor="start" fill="#e6198c" stroke="#e6198c" stroke-width="0.25">Gauss-207</text>
<path d="M240 457.4H263" stroke="#008c00" stroke-width="1"/>
<text class="m" transform="translate(266.4,461.3) scale(1,1.15)" font-size="10.4" text-anchor="start" fill="#008c00" stroke="#008c00" stroke-width="0.25">Gauss-206</text>
<path d="M240 470.5H263" stroke="#000" stroke-width="1"/>
<text class="m" transform="translate(266.4,474.4) scale(1,1.15)" font-size="10.4" text-anchor="start" fill="#000" stroke="#000" stroke-width="0.25">Gauss-204</text>
<path d="M240 483.6H263" stroke="#a020f0" stroke-width="1"/>
<text class="m" transform="translate(266.4,487.5) scale(1,1.15)" font-size="10.4" text-anchor="start" fill="#a020f0" stroke="#a020f0" stroke-width="0.25">Continuum</text>
<path d="M240 496.7H263" stroke="#ff0000" stroke-width="1.8"/>
<text class="m" transform="translate(266.4,500.6) scale(1,1.15)" font-size="10.4" text-anchor="start" fill="#ff0000" stroke="#ff0000" stroke-width="0.25">sum model</text>
<g clip-path="url(#cc)" fill="none" stroke-linejoin="round">
<path d="M410.66 656.5 L414.44 656.5 L418.21 656.5 L421.99 656.5 L425.77 656.5 L429.54 656.5 L433.32 656.5 L437.1 656.5 L440.88 656.5 L444.65 656.5 L448.43 656.5 L452.21 656.5 L455.99 656.5 L459.76 656.5 L463.54 656.5 L467.32 656.5 L471.1 656.5 L474.87 656.5 L478.65 656.49 L482.43 656.45 L486.2 656.27 L489.98 655.66 L493.76 653.83 L497.54 649.08 L501.31 638.5 L505.09 618.39 L508.87 586.1 L512.65 543.05 L516.42 496.96 L520.2 460.75 L523.98 446.93 L527.76 460.72 L531.53 496.93 L535.31 543.01 L539.09 586.07 L542.87 618.37 L546.64 638.48 L550.42 649.07 L554.2 653.83 L557.97 655.66 L561.75 656.27 L565.53 656.45 L569.31 656.49 L573.08 656.5 L576.86 656.5 L580.64 656.5 L584.42 656.5 L588.19 656.5 L591.97 656.5 L595.75 656.5 L599.53 656.5 L603.3 656.5 L607.08 656.5 L610.86 656.5 L614.63 656.5 L618.41 656.5 L622.19 656.5 L625.97 656.5 L629.74 656.5 L633.52 656.5 L637.3 656.5 L641.08 656.5 L644.85 656.5 L648.63 656.5 L652.41 656.5 L656.19 656.5 L659.96 656.5 L663.74 656.5 L667.52 656.5 L671.3 656.5 L675.07 656.5 L678.85 656.5 L682.63 656.5 L686.4 656.5 L690.18 656.5 L693.96 656.5 L697.74 656.5 L701.51 656.5" stroke="#0000d7" stroke-width="1.3"/>
<path d="M410.66 656.5 L414.44 656.5 L418.21 656.5 L421.99 656.5 L425.77 656.5 L429.54 656.5 L433.32 656.5 L437.1 656.5 L440.88 656.5 L444.65 656.5 L448.43 656.5 L452.21 656.5 L455.99 656.5 L459.76 656.5 L463.54 656.5 L467.32 656.5 L471.1 656.5 L474.87 656.5 L478.65 656.5 L482.43 656.5 L486.2 656.5 L489.98 656.5 L493.76 656.5 L497.54 656.49 L501.31 656.47 L505.09 656.39 L508.87 656.1 L512.65 655.26 L516.42 653.17 L520.2 648.68 L523.98 640.47 L527.76 627.85 L531.53 611.82 L535.31 595.69 L539.09 584.29 L542.87 581.68 L546.64 588.86 L550.42 603.14 L554.2 619.77 L557.97 634.44 L561.75 644.94 L565.53 651.21 L569.31 654.39 L573.08 655.77 L576.86 656.28 L580.64 656.44 L584.42 656.49 L588.19 656.5 L591.97 656.5 L595.75 656.5 L599.53 656.5 L603.3 656.5 L607.08 656.5 L610.86 656.5 L614.63 656.5 L618.41 656.5 L622.19 656.5 L625.97 656.5 L629.74 656.5 L633.52 656.5 L637.3 656.5 L641.08 656.5 L644.85 656.5 L648.63 656.5 L652.41 656.5 L656.19 656.5 L659.96 656.5 L663.74 656.5 L667.52 656.5 L671.3 656.5 L675.07 656.5 L678.85 656.5 L682.63 656.5 L686.4 656.5 L690.18 656.5 L693.96 656.5 L697.74 656.5 L701.51 656.5" stroke="#e6198c" stroke-width="1.3"/>
<path d="M410.66 656.5 L414.44 656.5 L418.21 656.5 L421.99 656.5 L425.77 656.5 L429.54 656.5 L433.32 656.5 L437.1 656.5 L440.88 656.5 L444.65 656.5 L448.43 656.5 L452.21 656.5 L455.99 656.5 L459.76 656.5 L463.54 656.5 L467.32 656.5 L471.1 656.5 L474.87 656.5 L478.65 656.5 L482.43 656.5 L486.2 656.5 L489.98 656.5 L493.76 656.5 L497.54 656.5 L501.31 656.5 L505.09 656.5 L508.87 656.49 L512.65 656.47 L516.42 656.37 L520.2 656.04 L523.98 655.07 L527.76 652.6 L531.53 647.19 L535.31 637.12 L539.09 621.29 L542.87 600.69 L546.64 579.31 L550.42 563.35 L554.2 558.41 L557.97 566.37 L561.75 584.24 L565.53 605.96 L569.31 625.65 L573.08 640.07 L576.86 648.86 L580.64 653.4 L584.42 655.4 L588.19 656.16 L591.97 656.41 L595.75 656.48 L599.53 656.5 L603.3 656.5 L607.08 656.5 L610.86 656.5 L614.63 656.5 L618.41 656.5 L622.19 656.5 L625.97 656.5 L629.74 656.5 L633.52 656.5 L637.3 656.5 L641.08 656.5 L644.85 656.5 L648.63 656.5 L652.41 656.5 L656.19 656.5 L659.96 656.5 L663.74 656.5 L667.52 656.5 L671.3 656.5 L675.07 656.5 L678.85 656.5 L682.63 656.5 L686.4 656.5 L690.18 656.5 L693.96 656.5 L697.74 656.5 L701.51 656.5" stroke="#008c00" stroke-width="1.3"/>
<path d="M410.66 656.5 L414.44 656.5 L418.21 656.5 L421.99 656.5 L425.77 656.5 L429.54 656.5 L433.32 656.5 L437.1 656.5 L440.88 656.5 L444.65 656.5 L448.43 656.5 L452.21 656.5 L455.99 656.5 L459.76 656.5 L463.54 656.5 L467.32 656.5 L471.1 656.5 L474.87 656.5 L478.65 656.5 L482.43 656.5 L486.2 656.5 L489.98 656.5 L493.76 656.5 L497.54 656.5 L501.31 656.5 L505.09 656.5 L508.87 656.5 L512.65 656.5 L516.42 656.5 L520.2 656.5 L523.98 656.5 L527.76 656.5 L531.53 656.5 L535.31 656.5 L539.09 656.5 L542.87 656.49 L546.64 656.47 L550.42 656.39 L554.2 656.19 L557.97 655.74 L561.75 654.83 L565.53 653.29 L569.31 651.07 L573.08 648.42 L576.86 645.92 L580.64 644.33 L584.42 644.18 L588.19 645.54 L591.97 647.92 L595.75 650.59 L599.53 652.92 L603.3 654.59 L607.08 655.61 L610.86 656.13 L614.63 656.37 L618.41 656.46 L622.19 656.49 L625.97 656.5 L629.74 656.5 L633.52 656.5 L637.3 656.5 L641.08 656.5 L644.85 656.5 L648.63 656.5 L652.41 656.5 L656.19 656.5 L659.96 656.5 L663.74 656.5 L667.52 656.5 L671.3 656.5 L675.07 656.5 L678.85 656.5 L682.63 656.5 L686.4 656.5 L690.18 656.5 L693.96 656.5 L697.74 656.5 L701.51 656.5" stroke="#000000" stroke-width="1.3"/>
<path d="M422.4 645.63H670.3" stroke="#a020f0" stroke-width="1.6"/>
<path d="M410.66 645.63 L414.44 645.63 L418.21 645.63 L421.99 645.63 L425.77 645.63 L429.54 645.63 L433.32 645.63 L437.1 645.63 L440.88 645.63 L444.65 645.63 L448.43 645.63 L452.21 645.63 L455.99 645.63 L459.76 645.63 L463.54 645.63 L467.32 645.63 L471.1 645.63 L474.87 645.62 L478.65 645.62 L482.43 645.57 L486.2 645.4 L489.98 644.79 L493.76 642.96 L497.54 638.2 L501.31 627.59 L505.09 607.4 L508.87 574.82 L512.65 530.91 L516.42 482.63 L520.2 441.6 L523.98 418.6 L527.76 417.3 L531.53 432.06 L535.31 451.95 L539.09 467.78 L542.87 476.86 L546.64 482.75 L550.42 491.58 L554.2 507.83 L557.97 531.84 L561.75 559.91 L565.53 586.53 L569.31 607.22 L573.08 620.38 L576.86 627.19 L580.64 630.3 L584.42 632.2 L588.19 634.32 L591.97 636.95 L595.75 639.7 L599.53 642.05 L603.3 643.72 L607.08 644.73 L610.86 645.26 L614.63 645.49 L618.41 645.58 L622.19 645.62 L625.97 645.62 L629.74 645.63 L633.52 645.63 L637.3 645.63 L641.08 645.63 L644.85 645.63 L648.63 645.63 L652.41 645.63 L656.19 645.63 L659.96 645.63 L663.74 645.63 L667.52 645.63 L671.3 645.63 L675.07 645.63 L678.85 645.63 L682.63 645.63 L686.4 645.63 L690.18 645.63 L693.96 645.63 L697.74 645.63 L701.51 645.63" stroke="#ff0000" stroke-width="1.7"/>
<path d="M422.61 641.02V647.41 M420.71 641.02H424.51 M420.71 647.41H424.51M425.4 643.38V649.2 M423.5 643.38H427.3 M423.5 649.2H427.3M429.12 644.81V650.26 M427.22 644.81H431.02 M427.22 650.26H431.02M433.15 640.37V646.9 M431.25 640.37H435.05 M431.25 646.9H435.05M436.87 640.09V646.69 M434.97 640.09H438.77 M434.97 646.69H438.77M440.59 644.81V650.26 M438.69 644.81H442.49 M438.69 650.26H442.49M444.62 644.43V649.98 M442.72 644.43H446.52 M442.72 649.98H446.52M448.34 636.37V643.76 M446.44 636.37H450.24 M446.44 643.76H450.24M451.75 640.37V646.9 M449.85 640.37H453.65 M449.85 646.9H453.65M455.78 640.74V647.19 M453.88 640.74H457.68 M453.88 647.19H457.68M459.19 644.43V649.98 M457.29 644.43H461.09 M457.29 649.98H461.09M463.22 640.37V646.9 M461.32 640.37H465.12 M461.32 646.9H465.12M466.94 640.74V647.19 M465.04 640.74H468.84 M465.04 647.19H468.84M470.66 640.37V646.9 M468.76 640.37H472.56 M468.76 646.9H472.56M474.69 640.37V646.9 M472.79 640.37H476.59 M472.79 646.9H476.59M478.41 637.39V644.57 M476.51 637.39H480.31 M476.51 644.57H480.31M481.82 625.88V635.16 M479.92 625.88H483.72 M479.92 635.16H483.72M485.85 632.51V640.65 M483.95 632.51H487.75 M483.95 640.65H487.75M489.57 631.33V639.68 M487.67 631.33H491.47 M487.67 639.68H491.47M493.6 623.71V633.35 M491.7 623.71H495.5 M491.7 633.35H495.5M497.32 612.87V624.1 M495.42 612.87H499.22 M495.42 624.1H499.22M501.04 589.52V603.63 M499.14 589.52H502.94 M499.14 603.63H502.94M504.45 590.05V604.1 M502.55 590.05H506.35 M502.55 604.1H506.35M508.79 537.49V556.56 M506.89 537.49H510.69 M506.89 556.56H510.69M512.51 515.62V536.43 M510.61 515.62H514.41 M510.61 536.43H514.41M516.54 453.36V478.51 M514.64 453.36H518.44 M514.64 478.51H518.44M519.95 438.36V464.45 M518.05 438.36H521.85 M518.05 464.45H521.85M523.98 408.84V436.7 M522.08 408.84H525.88 M522.08 436.7H525.88M527.7 428.43V455.13 M525.8 428.43H529.6 M525.8 455.13H529.6M531.73 426.89V453.68 M529.83 426.89H533.63 M529.83 453.68H533.63M535.45 454.3V479.39 M533.55 454.3H537.35 M533.55 479.39H537.35M538.86 462.02V486.61 M536.96 462.02H540.76 M536.96 486.61H540.76M542.89 475.84V499.52 M540.99 475.84H544.79 M540.99 499.52H544.79M546.3 455.41V480.43 M544.4 455.41H548.2 M544.4 480.43H548.2M550.33 500.61V522.55 M548.43 500.61H552.23 M548.43 522.55H552.23M553.74 503.46V525.18 M551.84 503.46H555.64 M551.84 525.18H555.64M557.77 533.68V553.06 M555.87 533.68H559.67 M555.87 553.06H559.67M561.18 535.93V555.13 M559.28 535.93H563.08 M559.28 555.13H563.08M565.52 580.66V595.72 M563.62 580.66H567.42 M563.62 595.72H567.42M568.93 596.92V610.18 M567.03 596.92H570.83 M567.03 610.18H570.83M572.96 618.5V628.93 M571.06 618.5H574.86 M571.06 628.93H574.86M576.68 622.27V632.13 M574.78 622.27H578.58 M574.78 632.13H578.58M580.71 631.42V639.75 M578.81 631.42H582.61 M578.81 639.75H582.61M584.12 622.27V632.13 M582.22 622.27H586.02 M582.22 632.13H586.02M588.15 636.65V643.98 M586.25 636.65H590.05 M586.25 643.98H590.05M591.87 628.32V637.2 M589.97 628.32H593.77 M589.97 637.2H593.77M595.9 630.6V639.08 M594 630.6H597.8 M594 639.08H597.8M599.31 638.97V645.81 M597.41 638.97H601.21 M597.41 645.81H601.21M603.65 646.93V651.8 M601.75 646.93H605.55 M601.75 651.8H605.55M607.06 641.02V647.41 M605.16 641.02H608.96 M605.16 647.41H608.96M611.09 641.59V647.84 M609.19 641.59H612.99 M609.19 647.84H612.99M614.81 638.97V645.81 M612.91 638.97H616.71 M612.91 645.81H616.71M618.22 644.05V649.7 M616.32 644.05H620.12 M616.32 649.7H620.12M621.94 645.96V651.1 M620.04 645.96H623.84 M620.04 651.1H623.84M625.35 641.3V647.63 M623.45 641.3H627.25 M623.45 647.63H627.25M629.69 640.65V647.12 M627.79 640.65H631.59 M627.79 647.12H631.59M633.41 645.58V650.82 M631.51 645.58H635.31 M631.51 650.82H635.31M637.75 641.87V648.06 M635.85 641.87H639.65 M635.85 648.06H639.65M641.16 648.49V652.89 M639.26 648.49H643.06 M639.26 652.89H643.06M645.19 643.95V649.63 M643.29 643.95H647.09 M643.29 649.63H647.09M648.6 649.59V653.62 M646.7 649.59H650.5 M646.7 653.62H650.5M652.63 648V652.55 M650.73 648H654.53 M650.73 652.55H654.53M656.04 643.76V649.49 M654.14 643.76H657.94 M654.14 649.49H657.94M660.07 646.54V651.52 M658.17 646.54H661.97 M658.17 651.52H661.97M663.48 646.93V651.8 M661.58 646.93H665.38 M661.58 651.8H665.38M668.13 641.87V648.06 M666.23 641.87H670.03 M666.23 648.06H670.03" stroke="#e82020" stroke-opacity="0.8" stroke-width="1"/>
<g fill="#ff0000"><circle cx="422.61" cy="644.22" r="2.5"/><circle cx="425.4" cy="646.29" r="2.5"/><circle cx="429.12" cy="647.54" r="2.5"/><circle cx="433.15" cy="643.63" r="2.5"/><circle cx="436.87" cy="643.39" r="2.5"/><circle cx="440.59" cy="647.54" r="2.5"/><circle cx="444.62" cy="647.2" r="2.5"/><circle cx="448.34" cy="640.07" r="2.5"/><circle cx="451.75" cy="643.63" r="2.5"/><circle cx="455.78" cy="643.97" r="2.5"/><circle cx="459.19" cy="647.2" r="2.5"/><circle cx="463.22" cy="643.63" r="2.5"/><circle cx="466.94" cy="643.97" r="2.5"/><circle cx="470.66" cy="643.63" r="2.5"/><circle cx="474.69" cy="643.63" r="2.5"/><circle cx="478.41" cy="640.98" r="2.5"/><circle cx="481.82" cy="630.52" r="2.5"/><circle cx="485.85" cy="636.58" r="2.5"/><circle cx="489.57" cy="635.5" r="2.5"/><circle cx="493.6" cy="628.53" r="2.5"/><circle cx="497.32" cy="618.49" r="2.5"/><circle cx="501.04" cy="596.57" r="2.5"/><circle cx="504.45" cy="597.07" r="2.5"/><circle cx="508.79" cy="547.02" r="2.5"/><circle cx="512.51" cy="526.02" r="2.5"/><circle cx="516.54" cy="465.93" r="2.5"/><circle cx="519.95" cy="451.41" r="2.5"/><circle cx="523.98" cy="422.77" r="2.5"/><circle cx="527.7" cy="441.78" r="2.5"/><circle cx="531.73" cy="440.28" r="2.5"/><circle cx="535.45" cy="466.85" r="2.5"/><circle cx="538.86" cy="474.31" r="2.5"/><circle cx="542.89" cy="487.68" r="2.5"/><circle cx="546.3" cy="467.92" r="2.5"/><circle cx="550.33" cy="511.58" r="2.5"/><circle cx="553.74" cy="514.32" r="2.5"/><circle cx="557.77" cy="543.37" r="2.5"/><circle cx="561.18" cy="545.53" r="2.5"/><circle cx="565.52" cy="588.19" r="2.5"/><circle cx="568.93" cy="603.55" r="2.5"/><circle cx="572.96" cy="623.72" r="2.5"/><circle cx="576.68" cy="627.2" r="2.5"/><circle cx="580.71" cy="635.58" r="2.5"/><circle cx="584.12" cy="627.2" r="2.5"/><circle cx="588.15" cy="640.32" r="2.5"/><circle cx="591.87" cy="632.76" r="2.5"/><circle cx="595.9" cy="634.84" r="2.5"/><circle cx="599.31" cy="642.39" r="2.5"/><circle cx="603.65" cy="649.36" r="2.5"/><circle cx="607.06" cy="644.22" r="2.5"/><circle cx="611.09" cy="644.71" r="2.5"/><circle cx="614.81" cy="642.39" r="2.5"/><circle cx="618.22" cy="646.87" r="2.5"/><circle cx="621.94" cy="648.53" r="2.5"/><circle cx="625.35" cy="644.47" r="2.5"/><circle cx="629.69" cy="643.88" r="2.5"/><circle cx="633.41" cy="648.2" r="2.5"/><circle cx="637.75" cy="644.96" r="2.5"/><circle cx="641.16" cy="650.69" r="2.5"/><circle cx="645.19" cy="646.79" r="2.5"/><circle cx="648.6" cy="651.6" r="2.5"/><circle cx="652.63" cy="650.27" r="2.5"/><circle cx="656.04" cy="646.62" r="2.5"/><circle cx="660.07" cy="649.03" r="2.5"/><circle cx="663.48" cy="649.36" r="2.5"/><circle cx="668.13" cy="644.96" r="2.5"/></g>
</g>
<path d="M427.61 656.2V653.8M427.61 407.3V409.7M433.83 656.2V653.8M433.83 407.3V409.7M440.04 656.2V653.8M440.04 407.3V409.7M446.26 656.2V653.8M446.26 407.3V409.7M452.47 656.2V652M452.47 407.3V411.5M458.68 656.2V653.8M458.68 407.3V409.7M464.9 656.2V653.8M464.9 407.3V409.7M471.11 656.2V653.8M471.11 407.3V409.7M477.33 656.2V653.8M477.33 407.3V409.7M483.54 656.2V652M483.54 407.3V411.5M489.75 656.2V653.8M489.75 407.3V409.7M495.97 656.2V653.8M495.97 407.3V409.7M502.18 656.2V653.8M502.18 407.3V409.7M508.4 656.2V653.8M508.4 407.3V409.7M514.61 656.2V652M514.61 407.3V411.5M520.82 656.2V653.8M520.82 407.3V409.7M527.04 656.2V653.8M527.04 407.3V409.7M533.25 656.2V653.8M533.25 407.3V409.7M539.47 656.2V653.8M539.47 407.3V409.7M545.68 656.2V652M545.68 407.3V411.5M551.89 656.2V653.8M551.89 407.3V409.7M558.11 656.2V653.8M558.11 407.3V409.7M564.32 656.2V653.8M564.32 407.3V409.7M570.54 656.2V653.8M570.54 407.3V409.7M576.75 656.2V652M576.75 407.3V411.5M582.96 656.2V653.8M582.96 407.3V409.7M589.18 656.2V653.8M589.18 407.3V409.7M595.39 656.2V653.8M595.39 407.3V409.7M601.61 656.2V653.8M601.61 407.3V409.7M607.82 656.2V652M607.82 407.3V411.5M614.03 656.2V653.8M614.03 407.3V409.7M620.25 656.2V653.8M620.25 407.3V409.7M626.46 656.2V653.8M626.46 407.3V409.7M632.68 656.2V653.8M632.68 407.3V409.7M638.89 656.2V652M638.89 407.3V411.5M645.1 656.2V653.8M645.1 407.3V409.7M651.32 656.2V653.8M651.32 407.3V409.7M657.53 656.2V653.8M657.53 407.3V409.7M663.75 656.2V653.8M663.75 407.3V409.7M422.4 648H425.3M670.3 648H667.4M422.4 639.7H425.3M670.3 639.7H667.4M422.4 631.4H425.3M670.3 631.4H667.4M422.4 623.1H425.3M670.3 623.1H667.4M422.4 614.8H427.4M670.3 614.8H665.3M422.4 606.5H425.3M670.3 606.5H667.4M422.4 598.2H425.3M670.3 598.2H667.4M422.4 589.9H425.3M670.3 589.9H667.4M422.4 581.6H425.3M670.3 581.6H667.4M422.4 573.3H427.4M670.3 573.3H665.3M422.4 565H425.3M670.3 565H667.4M422.4 556.7H425.3M670.3 556.7H667.4M422.4 548.4H425.3M670.3 548.4H667.4M422.4 540.1H425.3M670.3 540.1H667.4M422.4 531.8H427.4M670.3 531.8H665.3M422.4 523.5H425.3M670.3 523.5H667.4M422.4 515.2H425.3M670.3 515.2H667.4M422.4 506.9H425.3M670.3 506.9H667.4M422.4 498.6H425.3M670.3 498.6H667.4M422.4 490.3H427.4M670.3 490.3H665.3M422.4 482H425.3M670.3 482H667.4M422.4 473.7H425.3M670.3 473.7H667.4M422.4 465.4H425.3M670.3 465.4H667.4M422.4 457.1H425.3M670.3 457.1H667.4M422.4 448.8H427.4M670.3 448.8H665.3M422.4 440.5H425.3M670.3 440.5H667.4M422.4 432.2H425.3M670.3 432.2H667.4M422.4 423.9H425.3M670.3 423.9H667.4M422.4 415.6H425.3M670.3 415.6H667.4" stroke="#000" stroke-width="1" fill="none"/>
<path d="M421.8 407.3H670.9" stroke="#222" stroke-width="1.2"/>
<path d="M670.3 407.3V656.2" stroke="#999" stroke-width="1.4"/>
<path d="M422.4 407.3V656.2" stroke="#222" stroke-width="1.3"/>
<path d="M421.8 656.2H670.9" stroke="#000" stroke-width="1.6"/>
<text class="s" transform="translate(416.2,659.4) scale(1,1.08)" font-size="12.4" text-anchor="end" fill="#000" stroke="#000" stroke-width="0.3">0</text>
<text class="s" transform="translate(416.2,617.9) scale(1,1.08)" font-size="12.4" text-anchor="end" fill="#000" stroke="#000" stroke-width="0.3">50</text>
<text class="s" transform="translate(416.2,576.4) scale(1,1.08)" font-size="12.4" text-anchor="end" fill="#000" stroke="#000" stroke-width="0.3">100</text>
<text class="s" transform="translate(416.2,534.9) scale(1,1.08)" font-size="12.4" text-anchor="end" fill="#000" stroke="#000" stroke-width="0.3">150</text>
<text class="s" transform="translate(416.2,493.4) scale(1,1.08)" font-size="12.4" text-anchor="end" fill="#000" stroke="#000" stroke-width="0.3">200</text>
<text class="s" transform="translate(416.2,451.9) scale(1,1.08)" font-size="12.4" text-anchor="end" fill="#000" stroke="#000" stroke-width="0.3">250</text>
<text class="s" transform="translate(416.2,410.4) scale(1,1.08)" font-size="12.4" text-anchor="end" fill="#000" stroke="#000" stroke-width="0.3">300</text>
<text class="s" transform="translate(421.4,669.5) scale(1,1.08)" font-size="12.4" text-anchor="middle" fill="#000" stroke="#000" stroke-width="0.3">5930</text>
<text class="s" transform="translate(452.47,669.5) scale(1,1.08)" font-size="12.4" text-anchor="middle" fill="#000" stroke="#000" stroke-width="0.3">5940</text>
<text class="s" transform="translate(483.54,669.5) scale(1,1.08)" font-size="12.4" text-anchor="middle" fill="#000" stroke="#000" stroke-width="0.3">5950</text>
<text class="s" transform="translate(514.61,669.5) scale(1,1.08)" font-size="12.4" text-anchor="middle" fill="#000" stroke="#000" stroke-width="0.3">5960</text>
<text class="s" transform="translate(545.68,669.5) scale(1,1.08)" font-size="12.4" text-anchor="middle" fill="#000" stroke="#000" stroke-width="0.3">5970</text>
<text class="s" transform="translate(576.75,669.5) scale(1,1.08)" font-size="12.4" text-anchor="middle" fill="#000" stroke="#000" stroke-width="0.3">5980</text>
<text class="s" transform="translate(607.82,669.5) scale(1,1.08)" font-size="12.4" text-anchor="middle" fill="#000" stroke="#000" stroke-width="0.3">5990</text>
<text class="s" transform="translate(638.89,669.5) scale(1,1.08)" font-size="12.4" text-anchor="middle" fill="#000" stroke="#000" stroke-width="0.3">6000</text>
<text class="s" transform="translate(669.96,669.5) scale(1,1.08)" font-size="12.4" text-anchor="middle" fill="#000" stroke="#000" stroke-width="0.3">6010</text>
<text class="s" transform="translate(547.7,701.2) scale(1,1.03)" font-size="22.4" text-anchor="middle" fill="#000" stroke="#000" stroke-width="0.25">Energy (keV)</text>
<text class="s" transform="translate(370.2,522.8) rotate(-90) scale(1,1.03)" font-size="22.4" text-anchor="middle" stroke="#000" stroke-width="0.25">Counts</text>
<text class="r" x="432.2" y="436.4" font-size="26" stroke="#000" stroke-width="0.3">(c)</text>
<text class="s" transform="translate(487.8,394.9) scale(1,1.04)" font-size="15.6" text-anchor="start" fill="#000" stroke="#000" stroke-width="0.25">Pb(2p</text><text class="s" transform="translate(531.9,403.5) scale(1,1.04)" font-size="10.6" text-anchor="start" fill="#000" stroke="#000" stroke-width="0.25">3/2</text><path d="M547.9 390.7H561.2" stroke="#333" stroke-width="1.2"/><path d="M563.2 390.7L559.2 387.8L560.4 390.7L559.2 393.6Z" fill="#000"/><text class="s" transform="translate(565.2,394.9) scale(1,1.04)" font-size="15.6" text-anchor="start" fill="#000" stroke="#000" stroke-width="0.25">1s</text><text class="s" transform="translate(582.6,403.5) scale(1,1.04)" font-size="10.6" text-anchor="start" fill="#000" stroke="#000" stroke-width="0.25">1/2</text><text class="s" transform="translate(598.4,394.9) scale(1,1.04)" font-size="15.6" text-anchor="start" fill="#000" stroke="#000" stroke-width="0.25">)</text>
<rect x="577.3" y="407.5" width="93.2" height="98.3" fill="#fff" stroke="#555" stroke-width="1.3"/>
<circle cx="596.3" cy="418.1" r="2.4" fill="#ff0000"/>
<text class="m" transform="translate(610.3,422) scale(1,1.15)" font-size="10.4" text-anchor="start" fill="#ff0000" stroke="#ff0000" stroke-width="0.25">count</text>
<path d="M583.9 431.2H606.9" stroke="#0000d7" stroke-width="1"/>
<text class="m" transform="translate(610.3,435.1) scale(1,1.15)" font-size="10.4" text-anchor="start" fill="#0000d7" stroke="#0000d7" stroke-width="0.25">Gauss-208</text>
<path d="M583.9 444.3H606.9" stroke="#e6198c" stroke-width="1"/>
<text class="m" transform="translate(610.3,448.2) scale(1,1.15)" font-size="10.4" text-anchor="start" fill="#e6198c" stroke="#e6198c" stroke-width="0.25">Gauss-207</text>
<path d="M583.9 457.4H606.9" stroke="#008c00" stroke-width="1"/>
<text class="m" transform="translate(610.3,461.3) scale(1,1.15)" font-size="10.4" text-anchor="start" fill="#008c00" stroke="#008c00" stroke-width="0.25">Gauss-206</text>
<path d="M583.9 470.5H606.9" stroke="#000" stroke-width="1"/>
<text class="m" transform="translate(610.3,474.4) scale(1,1.15)" font-size="10.4" text-anchor="start" fill="#000" stroke="#000" stroke-width="0.25">Gauss-204</text>
<path d="M583.9 483.6H606.9" stroke="#a020f0" stroke-width="1"/>
<text class="m" transform="translate(610.3,487.5) scale(1,1.15)" font-size="10.4" text-anchor="start" fill="#a020f0" stroke="#a020f0" stroke-width="0.25">continuum</text>
<path d="M583.9 496.7H606.9" stroke="#ff0000" stroke-width="1.8"/>
<text class="m" transform="translate(610.3,500.6) scale(1,1.15)" font-size="10.4" text-anchor="start" fill="#ff0000" stroke="#ff0000" stroke-width="0.25">sum model</text>
</svg></body></html>
